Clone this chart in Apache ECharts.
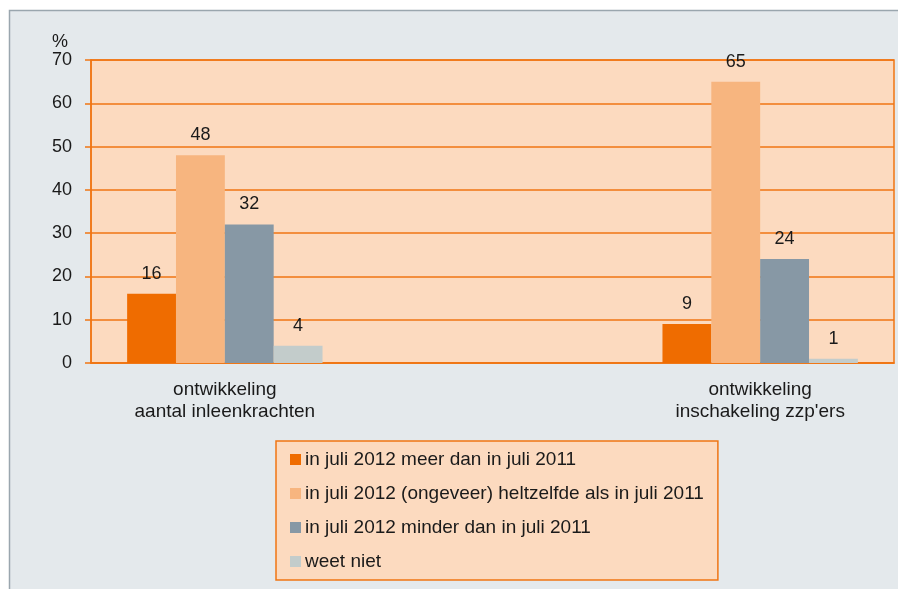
<!DOCTYPE html>
<html>
<head>
<meta charset="utf-8">
<script src="https://cdn.jsdelivr.net/npm/echarts@6/dist/echarts.min.js"></script>
<style>
  html, body { margin: 0; padding: 0; background: #fff; }
  #chart { width: 898px; height: 589px; }
</style>
</head>
<body>
<div id="chart"></div>
<script>
// categories (middle one is an empty spacer, as in the original)
const categories = ['ontwikkeling\naantal inleenkrachten', '', "ontwikkeling\ninschakeling zzp'ers"]
const seriesNames = [
  'in juli 2012 meer dan in juli 2011',
  'in juli 2012 (ongeveer) heltzelfde als in juli 2011',
  'in juli 2012 minder dan in juli 2011',
  'weet niet'
]
const meer = [16, null, 9]
const zelfde = [48, null, 65]
const minder = [32, null, 24]
const weetNiet = [4, null, 1]
const yTicks = [0, 10, 20, 30, 40, 50, 60, 70]

const colors = ['#EF6C00', '#F7B57F', '#8798A5', '#C3CCCB']
const orange = '#F07513'
const txt = '#1a1a1a'
const font = 'Liberation Sans, Arial'

const chart = echarts.init(document.getElementById('chart'))

const mkSeries = (name, data, i) => ({
  name: name,
  type: 'bar',
  data: data,
  barGap: '0%',
  barCategoryGap: '27%',
  itemStyle: { color: colors[i] },
  label: {
    show: true,
    position: 'top',
    distance: 11,
    color: txt,
    fontSize: 18,
    fontFamily: font
  }
})

const option = {
  animation: false,
  backgroundColor: '#fff',
  textStyle: { fontFamily: font },
  graphic: [{
    type: 'rect',
    z: -10,
    shape: { x: 9.5, y: 10.5, width: 900, height: 600 },
    style: { fill: '#E4E9EC', stroke: '#9AA6AE', lineWidth: 1.5 }
  }],
  grid: {
    left: 91, top: 60, right: 4, bottom: 226,
    show: true,
    backgroundColor: '#FCDABF',
    borderColor: orange,
    borderWidth: 1.5
  },
  legend: {
    orient: 'vertical',
    left: 276,
    top: 441,
    itemWidth: 11,
    itemHeight: 11,
    itemGap: 15,
    padding: [9, 14, 9, 14],
    backgroundColor: '#FCDABF',
    borderColor: orange,
    borderWidth: 1.5,
    icon: 'rect',
    textStyle: { color: txt, fontSize: 19, fontFamily: font, padding: [0, 0, 0, -1] },
    data: seriesNames
  },
  xAxis: {
    type: 'category',
    data: categories,
    axisLine: { lineStyle: { color: orange, width: 1.5 } },
    axisTick: { show: false },
    axisLabel: { color: txt, fontSize: 19, lineHeight: 22, margin: 16, interval: 0 }
  },
  yAxis: {
    type: 'value',
    min: 0,
    max: 70,
    interval: 10,
    name: '%',
    nameLocation: 'end',
    nameGap: 7,
    nameTextStyle: { color: txt, fontSize: 18, align: 'right', padding: [0, 23, 0, 0] },
    axisLine: { show: true, lineStyle: { color: orange, width: 1.5 } },
    axisTick: { show: true, length: 6, lineStyle: { color: orange, width: 1.5 } },
    axisLabel: {
      color: txt, fontSize: 18, margin: 19,
      formatter: v => (yTicks.indexOf(v) >= 0 ? String(v) : '')
    },
    splitLine: { lineStyle: { color: orange, width: 1.5 } }
  },
  series: [
    mkSeries(seriesNames[0], meer, 0),
    mkSeries(seriesNames[1], zelfde, 1),
    mkSeries(seriesNames[2], minder, 2),
    mkSeries(seriesNames[3], weetNiet, 3)
  ]
}

option && chart.setOption(option)
</script>
</body>
</html>
